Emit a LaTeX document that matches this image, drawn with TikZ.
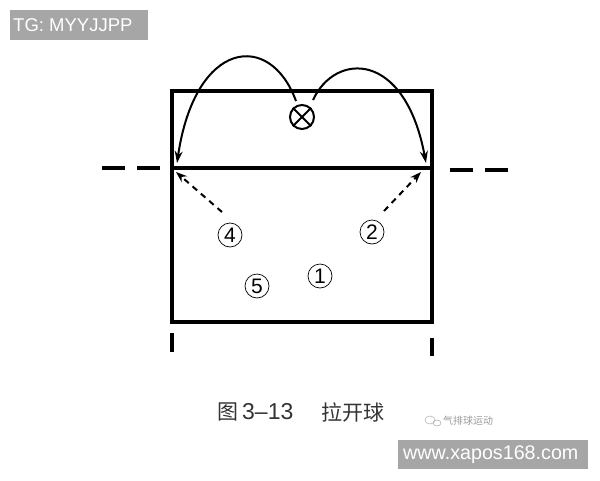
\documentclass[tikz,border=0pt]{standalone}
\usepackage{fontspec}
\setmainfont{Liberation Sans}
\newfontfamily\cjk{Noto Sans CJK SC}
\usetikzlibrary{arrows.meta}
\begin{document}
\begin{tikzpicture}[x=1pt,y=-1pt,
  court/.style={line width=3.4pt},
  player/.style={circle,draw,line width=0.7pt,inner sep=0pt,minimum size=24pt,font=\fontsize{21}{21}\selectfont},
  arc/.style={line width=2pt,-{Stealth[length=12pt,width=8pt]}},
  run/.style={line width=2pt,dash pattern=on 6pt off 5pt,-{Stealth[length=11pt,width=8pt]}},
  ext/.style={line width=3.4pt,dash pattern=on 23pt off 12pt},
  wm/.style={fill=black!35,draw=none}]
\useasboundingbox (0,0) rectangle (600,480);
% watermark top
\fill[wm] (10,10) rectangle (148,40);
\node[anchor=west,text=white,font=\fontsize{18.5}{18.5}\selectfont,inner sep=0pt] (tg) at (13,25) {TG: MYYJJPP};
% court
\draw[court] (172,91) rectangle (432,322);
\coordinate (netL) at (172,168);
\coordinate (netR) at (432,168);
\draw[court] (netL) -- (netR);
\draw[ext] (102,168) -- (160,168);
\draw[ext] (450,170) -- (508,170);
\draw[line width=3.4pt] (172,333) -- (172,352);
\draw[line width=3.4pt] (432,338) -- (432,356);
% server
\node[circle,draw,line width=2pt,minimum size=24pt,inner sep=0pt] (srv) at (302,117) {};
\draw[line width=2pt] (srv.45) -- (srv.225) (srv.135) -- (srv.315);
\coordinate (lt) at (177,163);
\coordinate (rt) at (426,163);
\draw[arc] (296,101) .. controls (270,30) and (195,40) .. (lt);
\draw[arc] (313,100) .. controls (335,52) and (405,50) .. (rt);
% players
\node[player] (p4) at (230,235) {4};
\node[player] (p2) at (372,232) {2};
\node[player] (p1) at (320,276) {1};
\node[player] (p5) at (257,286) {5};
\coordinate (a4) at (176,172);
\coordinate (a2) at (421,172);
\draw[run] (222,212) -- (a4);
\draw[run] (384,211) -- (a2);
% caption
\node[font=\cjk\fontsize{21}{21}\selectfont,text=black!80,anchor=west,inner sep=0pt] (cap1) at (217,412) {图};
\node[font=\fontsize{23}{23}\selectfont,text=black!80,anchor=west,inner sep=0pt] (cap2) at (242,412) {3–13};
\node[font=\cjk\fontsize{21}{21}\selectfont,text=black!80,anchor=west,inner sep=0pt] (cap3) at (321,412) {拉开球};
% wechat watermark
\draw[black!30,line width=0.6pt] (430,420) ellipse (5pt and 4pt);
\draw[black!30,line width=0.6pt] (437,423) ellipse (4pt and 3pt);
\node[font=\cjk\fontsize{10}{10}\selectfont,text=black!40,anchor=west,inner sep=0pt] (wx) at (443,421) {气排球运动};
% bottom watermark
\fill[wm] (398,440) rectangle (588,469);
\node[anchor=west,text=white,font=\fontsize{19.7}{19.7}\selectfont,inner sep=0pt] (url) at (403,455) {www.xapos168.com};
\end{tikzpicture}
\end{document}
